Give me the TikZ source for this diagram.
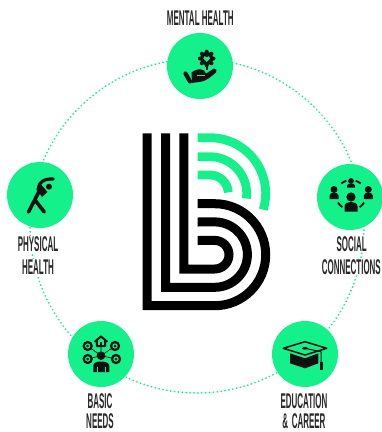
\documentclass[tikz,border=0pt]{standalone}
\usepackage{fontspec}
\newfontfamily\condfont[FakeStretch=0.375]{Liberation Sans Bold}
\definecolor{mint}{HTML}{14F08A}
\definecolor{ink}{HTML}{111111}
\tikzset{
  hubcircle/.style={circle,fill=mint,draw=none,minimum size=66pt,inner sep=0pt},
  ringline/.style={circle,draw=mint,line width=1.7pt,dash pattern=on 0.3pt off 3.6pt,line cap=round,minimum size=334pt,inner sep=0pt},
  lbl/.style={font=\condfont\fontsize{21.3}{21.3}\selectfont,text=ink!90!white,fill=white,inner sep=0.4pt},
  blackline/.style={draw=black,line width=9pt,line cap=butt,line join=miter,miter limit=10},
  greenline/.style={draw=mint,line width=8.8pt,line cap=butt},
  iconline/.style={draw=ink,line cap=round,line join=round},
}
\begin{document}
\begin{tikzpicture}[x=1pt,y=1pt,yscale=-1]
\useasboundingbox (0,0) rectangle (382,432);
\node[ringline] (ring) at (197,226) {};
% hubs
\node[hubcircle] (mental) at (200,66) {};
\node[hubcircle] (social) at (350,197) {};
\node[hubcircle] (education) at (305,354) {};
\node[hubcircle] (basic) at (101,354) {};
\node[hubcircle] (physical) at (40,195) {};
% labels
\node[lbl] (l1) at (200.3,18.5) {MENTAL HEALTH};
\node[lbl] (l2) at (351.7,244) {SOCIAL};
\node[lbl] (l3) at (351.3,267) {CONNECTIONS};
\node[lbl] (l4) at (304,401.5) {EDUCATION};
\node[lbl] (l5) at (304,421) {\&\,CAREER};
\node[lbl] (l6) at (100,401.5) {BASIC};
\node[lbl] (l7) at (100,421) {NEEDS};
\node[lbl] (l8) at (38,244) {PHYSICAL};
\node[lbl] (l9) at (38,267) {HEALTH};
% logo
\draw[blackline] (147.2,133.3) -- (147.2,305.7) -- (214.7,305.7) arc (90:-90:51pt) -- (197.7,203.7);
\draw[blackline] (165.5,133.3) -- (165.5,287.3) -- (214.7,287.3) arc (90:-90:32.7pt) -- (197.7,222);
\draw[blackline] (183.8,133.3) -- (183.8,269) -- (214.7,269) arc (90:-90:14.3pt) -- (197.7,240.3);
\draw[greenline] (197.7,137.7) -- (210,137.7) arc (-90:17:55.7pt);
\draw[greenline] (197.7,156.7) -- (210,156.7) arc (-90:8:36.7pt);
\draw[greenline] (197.7,175) -- (210,175) arc (-90:-3:18.3pt);
% mental icon
\draw[iconline,line width=4.2pt] (185.5,73.5) -- (190,81.5);
\fill[ink] (191.5,72.5) .. controls (196,69) and (200,68.5) .. (204,70.5) -- (206,73.5) -- (214,68.5) .. controls (216.5,68) and (217.5,71) .. (216,72.5) .. controls (211,76.5) and (207,80.5) .. (202,81.5) -- (192,83) -- cycle;
\draw[mint,line width=0.8pt] (197,75.5) -- (205,75.5);
\draw[ink,line width=1.8pt] (207.3,63) -- (207.3,70);
\fill[ink] (206.7,58.5) circle (6.6pt);
\foreach \a in {0,45,...,315} \fill[ink] (206.7,58.5) ++(\a:6.8pt) circle (2pt);
\fill[mint] (206.7,62) -- (203.4,58.4) .. controls (202.8,56) and (205.9,55.2) .. (206.7,57.4) .. controls (207.5,55.2) and (210.6,56) .. (210,58.4) -- cycle;
% social icon
\fill[ink] (351,197) circle (4.6pt);
\fill[ink] (344.5,211.5) -- (344.5,206.5) .. controls (344.5,203) and (348,202) .. (351,202) .. controls (354,202) and (357.5,203) .. (357.5,206.5) -- (357.5,211.5) -- cycle;
\foreach \x in {334,368.3} {
  \fill[ink] (\x,189.5) circle (3.5pt);
  \fill[ink] (\x-4.5,199) -- (\x-4.5,195.5) .. controls (\x-4.5,193.5) and (\x-2,192.7) .. (\x,192.7) .. controls (\x+2,192.7) and (\x+4.5,193.5) .. (\x+4.5,195.5) -- (\x+4.5,199) -- cycle;
}
\fill[ink] (351,181) circle (2.9pt);
\fill[ink] (347,187.5) -- (347,185.5) .. controls (347,184) and (349,183.5) .. (351,183.5) .. controls (353,183.5) and (355,184) .. (355,185.5) -- (355,187.5) -- cycle;
\draw[ink,line width=1.8pt] (351,195) ++(-130:15pt) arc (-130:-108:15pt);
\draw[ink,line width=1.8pt] (351,195) ++(-72:15pt) arc (-72:-50:15pt);
\draw[ink,line width=1.8pt] (351,195) ++(125:15pt) arc (125:150:15pt);
\draw[ink,line width=1.8pt] (351,195) ++(30:15pt) arc (30:55:15pt);
% education icon
\fill[ink] (290,353.3) -- (305,358.3) -- (318.3,353.3) -- (318.3,363.3) -- (305,368.3) -- (290,363.3) -- cycle;
\draw[iconline,line width=1.5pt] (283.3,348.3) -- (305,341.7) -- (326.7,348.3) -- (305,355) -- cycle;
\fill[ink] (305,348.3) ellipse (3pt and 1.3pt);
\draw[iconline,line width=1pt] (305,348.3) -- (321,351.7) -- (321,365);
\fill[ink] (319.5,362) rectangle (323,370);
% basic icon
\fill[ink] (101,355.7) circle (4.3pt);
\fill[ink] (93.3,372) -- (93.3,366) .. controls (93.3,362.5) and (97,361.5) .. (101,361.5) .. controls (105,361.5) and (109.3,362.5) .. (109.3,366) -- (109.3,372) -- cycle;
\draw[mint,line width=0.7pt] (97,366.5) -- (97,372) (105,366.5) -- (105,372);
\draw[ink,line width=0.7pt] (101,355.7) -- (87.7,346) (101,355.7) -- (115,346) (101,355.7) -- (87.7,359) (101,355.7) -- (116,359) (101,355.7) -- (101,346);
\foreach \x/\y in {87.7/346,115/346,87.7/359,116/359} {
  \fill[mint] (\x,\y) circle (4.5pt);
  \draw[ink,line width=2.2pt] (\x,\y) circle (4pt);
  \fill[ink] (\x,\y) circle (1.5pt);
}
\draw[iconline,line width=2pt] (95,341.5) -- (101,336.5) -- (107,341.5) (96.8,341) -- (96.8,346) -- (105.2,346) -- (105.2,341);
\fill[ink] (99.8,342) rectangle (102.2,346);
% physical icon
\draw[iconline,line width=3.6pt] (28.5,212) -- (39.3,191);
\draw[iconline,line width=3.6pt] (35,200) -- (44.3,212);
\draw[iconline,line width=3.2pt] (38.5,193) .. controls (37,182) and (44,178.5) .. (53.3,179);
\fill[ink] (36.5,189) -- (40,183) -- (47.5,192) -- (42,197) -- cycle;
\fill[ink] (49,186.7) circle (3pt);
\end{tikzpicture}
\end{document}
